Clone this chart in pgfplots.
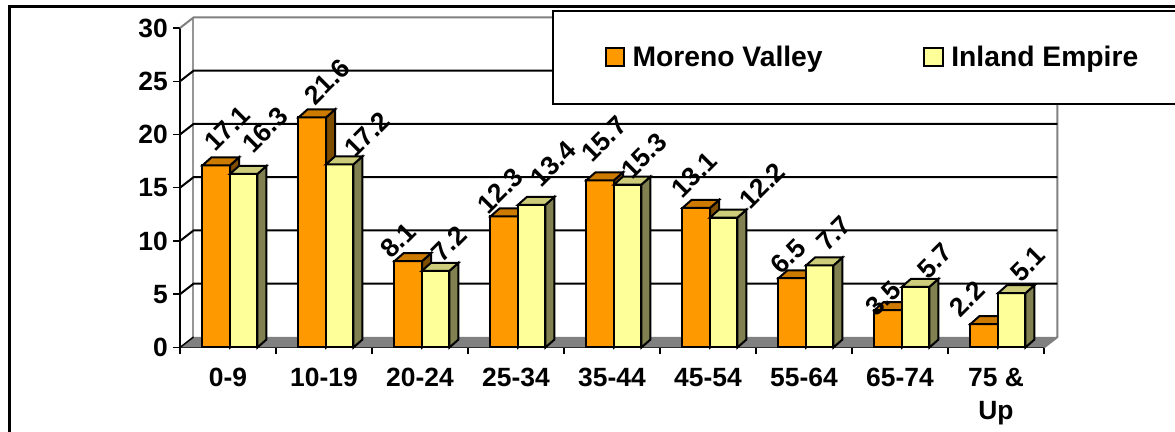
\documentclass[border=0pt]{standalone}
\usepackage{fontspec}
\setmainfont{Liberation Sans}
\usepackage{pgfplots}
\usepackage{pgfplotstable}
\pgfplotsset{compat=1.18}

% Share of population by age group; shifts place each rotated value label (in 0.75pt units)
\pgfplotstableread{
idx moreno mdx mdy inland idx2 idy
0   17.1   11   37  16.3   21.5 44
1   21.6   15   36  17.2   27.5 30
2   8.1    -10  21  7.2    13.5 27
3   12.3   -4   26  13.4   21.5 41
4   15.7   4    41  15.3   16.5 29
5   13.1   -2   33.5 12.2  38.5 32
6   6.5    -4   22  7.7    14.5 32
7   3.5    -5   12  5.7    19.5 26
8   2.2    -17  25  5.1    16.5 29
}\agedata

\definecolor{mvfront}{HTML}{FF9900}
\definecolor{mvside}{HTML}{7F4D00}
\definecolor{mvtop}{HTML}{CC7A00}
\definecolor{iefront}{HTML}{FFFF99}
\definecolor{ieside}{HTML}{808050}
\definecolor{ietop}{HTML}{CCCC7A}
\definecolor{wallgrey}{HTML}{808080}
\definecolor{edgegrey}{HTML}{969696}

% depth of the walls and of the bars, in data units
\def\wdx{0.1406}
\def\wdy{0.986}
\def\bdx{0.094}
\def\bdy{0.75}

\pgfplotsset{swatch/.style={legend image code/.code={\draw[##1] (0pt,-6.8pt) rectangle (14pt,6.8pt);\path (17.5pt,0pt);}}}

% one 3-D bar: left, right, value, front, side and top colours
\newcommand{\threedbar}[6]{%
  \pgfmathsetmacro{\xb}{#2+\bdx}%
  \pgfmathsetmacro{\xc}{#1+\bdx}%
  \pgfmathsetmacro{\yt}{#3+\bdy}%
  \addplot[forget plot,draw=black,line width=1.5pt,fill=#4] coordinates {(#1,0) (#2,0) (#2,#3) (#1,#3)} --cycle;
  \addplot[forget plot,draw=black,line width=1.5pt,fill=#5] coordinates {(#2,0) (\xb,\bdy) (\xb,\yt) (#2,#3)} --cycle;
  \addplot[forget plot,draw=black,line width=1.5pt,fill=#6] coordinates {(#1,#3) (#2,#3) (\xb,\yt) (\xc,\yt)} --cycle;
}
% rotated value label above a bar
\newcommand{\valuelabel}[4]{%
  \edef\temp{\noexpand\node[xshift=#3*0.75pt,yshift=#4*0.75pt,rotate=45,inner sep=0pt,anchor=center,font=\noexpand\bfseries\noexpand\fontsize{19.8}{22}\noexpand\selectfont] at (axis cs:#1,#2) {#2};}%
  \temp
}

\begin{document}
\begin{tikzpicture}
\useasboundingbox (0,0) rectangle (881.25pt,324pt);
\fill[white] (0,0) rectangle (881.25pt,324pt);
% outer frame, open at the right and at the bottom
\draw[line width=2.4pt,line cap=rect] (7.1pt,0) -- (7.1pt,319.3pt) -- (882pt,319.3pt);
\begin{axis}[
  at={(135pt,63.4pt)},anchor=south west,
  scale only axis,width=648pt,height=239.6pt,
  xmin=0,xmax=9,ymin=0,ymax=30,clip=false,
  axis x line*=bottom,axis y line*=left,
  axis line style={black,line width=1.5pt,-},
  tick align=outside,
  xtick={0.5,1.5,...,8.5},
  xticklabels={0-9,10-19,20-24,25-34,35-44,45-54,55-64,65-74,{75 \&\\Up}},
  minor xtick={0,1,...,9},
  ytick={0,5,...,30},
  major tick length=5pt,minor tick length=5pt,
  x tick style={draw=none},
  minor x tick style={draw=black,line width=1.1pt},
  y tick style={draw=black,line width=1.1pt},
  /pgf/number format/assume math mode=true,
  tick label style={font=\bfseries\fontsize{19.8}{24.75}\selectfont},
  x tick label style={align=center,inner sep=0pt,yshift=-10.5pt},
  y tick label style={inner sep=0pt,xshift=-4pt},
  legend style={at={(axis cs:4.42,27.27)},anchor=west,draw=none,fill=none,
    legend columns=2,inner sep=0pt,
    font=\bfseries\fontsize{21.2}{24}\selectfont,
    /tikz/every even column/.append style={column sep=73.5pt}},
  legend cell align=left,
]
% floor and back wall
\addplot[forget plot,draw=none,fill=wallgrey] coordinates {(0,0) (9,0) (9.1406,0.986) (0.1406,0.986)} --cycle;
\addplot[forget plot,draw=edgegrey,line width=1.5pt] coordinates {(0.1406,0.986) (0.1406,30.986)};
\addplot[forget plot,draw=wallgrey,line width=1.5pt] coordinates {(0,30) (0.1406,30.986) (9.1406,30.986) (9.1406,0.986) (9,0)};
\pgfplotsforeachungrouped \g in {5,10,15,20,25}{%
  \pgfmathsetmacro{\gb}{\g+\wdy}%
  \addplot[forget plot,draw=black,line width=1.5pt] coordinates {(0,\g) (0.1406,\gb) (9.1406,\gb)};
}
\addplot[forget plot,draw=black,line width=1.1pt] coordinates {(0,0) (0.1406,0.986)};
% bars, drawn back to front within each group
\pgfplotsforeachungrouped \i in {0,...,8}{%
  \pgfplotstablegetelem{\i}{moreno}\of\agedata\let\mv\pgfplotsretval
  \pgfplotstablegetelem{\i}{inland}\of\agedata\let\ie\pgfplotsretval
  \pgfmathsetmacro{\xa}{\i+0.234}%
  \pgfmathsetmacro{\xm}{\i+0.521}%
  \pgfmathsetmacro{\xe}{\i+0.807}%
  \threedbar{\xa}{\xm}{\mv}{mvfront}{mvside}{mvtop}
  \threedbar{\xm}{\xe}{\ie}{iefront}{ieside}{ietop}
}
% value labels
\pgfplotsforeachungrouped \i in {0,...,8}{%
  \pgfplotstablegetelem{\i}{moreno}\of\agedata\let\mv\pgfplotsretval
  \pgfplotstablegetelem{\i}{mdx}\of\agedata\let\sx\pgfplotsretval
  \pgfplotstablegetelem{\i}{mdy}\of\agedata\let\sy\pgfplotsretval
  \pgfmathsetmacro{\xa}{\i+0.375}%
  \valuelabel{\xa}{\mv}{\sx}{\sy}
  \pgfplotstablegetelem{\i}{inland}\of\agedata\let\ie\pgfplotsretval
  \pgfplotstablegetelem{\i}{idx2}\of\agedata\let\sx\pgfplotsretval
  \pgfplotstablegetelem{\i}{idy}\of\agedata\let\sy\pgfplotsretval
  \pgfmathsetmacro{\xa}{\i+0.661}%
  \valuelabel{\xa}{\ie}{\sx}{\sy}
}
% legend panel runs off the right edge
\draw[draw=black,fill=white,line width=1.5pt] (axis cs:3.885,31.64) rectangle (axis cs:10.6,22.86);
\addlegendimage{swatch,fill=mvfront,draw=black,line width=1.5pt}
\addlegendentry{Moreno Valley}
\addlegendimage{swatch,fill=iefront,draw=black,line width=1.5pt}
\addlegendentry{Inland Empire}
\end{axis}
\end{tikzpicture}
\end{document}
